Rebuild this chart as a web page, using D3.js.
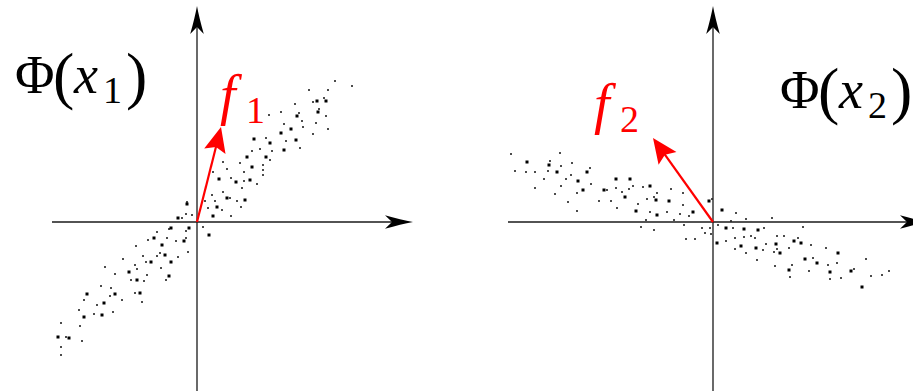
<!DOCTYPE html>
<html>
<head>
<meta charset="utf-8">
<script src="https://cdn.jsdelivr.net/npm/d3@7/dist/d3.min.js"></script>
<style>
  html, body { margin: 0; padding: 0; background: #fff; }
  svg { display: block; }
  svg text, svg tspan { font-family: "Liberation Serif", serif; }
</style>
</head>
<body>
<svg id="chart" width="913" height="391"></svg>
<script>
// ---- Feature space 1: sample images Φ(x1) (coordinates relative to origin) ----
const p1Big = [
  [1.20,1.21],[1.29,1.21],[1.21,1.10],[1.00,1.06],[0.94,0.93],[0.84,0.89],[0.57,0.83],
  [0.99,0.82],[0.73,0.79],[0.87,0.72],[0.50,0.65],[0.69,0.65],[0.55,0.55],[0.22,0.43],
  [0.53,0.42],[0.39,0.40],[0.30,0.24],[0.48,0.22],[0.20,0.15],[0.16,0.06],[-0.10,0.18],
  [-0.19,0.04],[-0.08,-0.06],[-0.26,-0.06],[0.12,-0.13],[-0.43,-0.16],[-0.13,-0.19],
  [-0.35,-0.23],[-0.32,-0.33],[-0.46,-0.40],[-0.26,-0.40],[-0.68,-0.50],[-0.28,-0.54],
  [-0.60,-0.58],[-0.57,-0.71],[-1.10,-0.72],[-0.82,-0.72],[-0.93,-0.81],[-0.95,-0.93],
  [-1.13,-0.95],[-1.39,-1.15],[-1.28,-1.16]
];
const p1Small = [
  [1.38,1.41],[1.55,1.36],[1.12,1.32],[1.31,1.32],[1.27,1.24],[1.16,1.20],[0.98,1.18],
  [1.22,1.13],[0.84,1.10],[1.02,1.09],[0.72,1.07],[1.29,1.06],[1.05,1.01],[0.87,0.98],
  [1.19,0.99],[1.06,0.95],[1.31,0.93],[1.16,0.88],[0.69,0.84],[0.89,0.81],[0.63,0.73],
  [1.03,0.74],[0.55,0.71],[0.75,0.71],[0.73,0.62],[0.26,0.60],[0.43,0.59],[0.66,0.57],
  [0.30,0.53],[0.66,0.52],[0.16,0.50],[0.47,0.50],[0.66,0.47],[0.34,0.44],[0.47,0.41],
  [0.60,0.38],[0.45,0.34],[0.15,0.27],[0.26,0.30],[0.33,0.24],[0.18,0.21],[0.40,0.21],
  [0.08,0.21],[0.25,0.12],[0.11,0.14],[0.44,0.15],[0.34,0.06],[-0.05,0.07],[0.06,-0.05],
  [-0.10,0.20],[-0.11,0.08],[-0.15,0.04],[-0.28,-0.07],[-0.40,-0.10],[-0.11,-0.09],
  [-0.30,-0.16],[-0.11,-0.16],[-0.49,-0.18],[-0.21,-0.19],[-0.61,-0.24],[-0.09,-0.30],
  [-0.37,-0.31],[-0.40,-0.34],[-0.54,-0.34],[-0.19,-0.35],[-0.74,-0.37],[-0.51,-0.40],
  [-0.92,-0.45],[-0.62,-0.43],[-0.60,-0.47],[-0.36,-0.46],[-0.82,-0.52],[-0.50,-0.53],
  [-0.66,-0.58],[-0.53,-0.59],[-0.31,-0.58],[-0.96,-0.64],[-0.86,-0.66],[-0.62,-0.71],
  [-0.87,-0.74],[-0.75,-0.78],[-1.13,-0.78],[-0.55,-0.80],[-1.00,-0.83],[-1.18,-0.88],
  [-0.84,-0.90],[-1.03,-0.92],[-1.36,-1.01],[-1.17,-1.04],[-1.31,-1.15],[-1.15,-1.19],
  [-1.36,-1.25],[-1.36,-1.33]
];
const f1 = [0.24, 0.95];

// ---- Feature space 2: sample images Φ(x2) ----
const p2Big = [
  [-1.86,0.60],[-1.64,0.57],[-1.56,0.50],[-1.26,0.50],[-1.35,0.41],[-0.97,0.43],[-0.83,0.43],
  [-1.30,0.32],[-1.09,0.32],[-0.63,0.36],[-0.88,0.25],[-0.57,0.22],[-0.44,0.21],[-0.04,0.21],
  [-0.77,0.11],[-0.20,0.10],[-0.56,0.07],[0.09,0.12],[0.13,-0.06],[0.31,-0.07],[0.45,-0.08],
  [0.04,-0.21],[0.81,-0.19],[0.63,-0.22],[0.88,-0.21],[0.28,-0.24],[0.43,-0.26],[0.67,-0.31],
  [1.25,-0.31],[0.92,-0.37],[1.04,-0.41],[0.76,-0.48],[1.17,-0.50],[1.38,-0.49],[1.49,-0.65]
];
const p2Small = [
  [-2.02,0.68],[-1.53,0.69],[-1.63,0.61],[-1.41,0.59],[-1.52,0.56],[-1.23,0.54],[-1.98,0.51],
  [-1.87,0.50],[-1.78,0.50],[-1.65,0.51],[-1.42,0.47],[-1.69,0.43],[-1.47,0.43],[-1.22,0.38],
  [-1.52,0.36],[-1.78,0.34],[-1.36,0.29],[-1.58,0.28],[-1.06,0.32],[-0.97,0.34],[-0.84,0.33],
  [-0.91,0.30],[-0.80,0.36],[-0.70,0.35],[-0.56,0.29],[-0.42,0.33],[-0.30,0.29],[-0.59,0.25],
  [-0.66,0.23],[-1.45,0.20],[-1.14,0.21],[-1.02,0.21],[-0.75,0.18],[-0.96,0.14],[-0.30,0.17],
  [-1.36,0.11],[-0.63,0.10],[-0.46,0.10],[-0.33,0.08],[-0.24,0.06],[-0.67,0.02],[-0.39,0.02],
  [-0.72,-0.05],[-0.59,-0.08],[-0.29,-0.03],[-0.11,-0.06],[-0.03,-0.06],[0.05,-0.03],
  [-0.27,-0.17],[-0.18,-0.17],[-0.01,0.23],[0.23,0.09],[0.59,0.04],[0.33,0.03],[0.18,0.01],
  [0.20,-0.06],[0.51,-0.06],[0.90,-0.05],[-0.08,-0.11],[-0.02,-0.12],[0.38,-0.14],[0.22,-0.16],
  [0.31,-0.15],[0.42,-0.16],[0.64,-0.14],[0.71,-0.14],[0.85,-0.16],[0.13,-0.19],[0.53,-0.22],
  [0.98,-0.23],[0.22,-0.27],[0.50,-0.28],[0.76,-0.26],[0.64,-0.27],[0.61,-0.30],[0.33,-0.31],
  [1.13,-0.26],[0.44,-0.38],[1.00,-0.36],[1.24,-0.41],[1.53,-0.37],[0.62,-0.44],[0.79,-0.43],
  [1.15,-0.43],[0.96,-0.49],[1.41,-0.47],[1.76,-0.49],[0.77,-0.55],[1.17,-0.57],[1.28,-0.56],
  [1.58,-0.54],[1.69,-0.53]
];
const f2 = [-0.60, 0.84];

// ---- Scales (same vertical scale for both panels) ----
const svg = d3.select("#chart");
const y  = d3.scaleLinear().domain([-1.69, 2.16]).range([391, 6]);
const x1 = d3.scaleLinear().domain([-1.45, 2.16]).range([52, 413]);
const x2 = d3.scaleLinear().domain([-2.05, 2.15]).range([508, 928]);

// stealth-style arrowhead, tip at (0,0) pointing along +x
const axisHead = "M0,0 Q-12,-2.2 -28,-6.8 L-21,0 L-28,6.8 Q-12,2.2 0,0 Z";
const vecHead  = "M0,0 L-25,-11 L-20.5,0 L-25,11 Z";

function drawPanel(x, big, small, vec) {
  const g = svg.append("g");
  const [x0, x1e] = x.domain();
  const [y0, y1e] = y.domain();

  // axes
  const axes = g.append("g").attr("stroke", "#1a1a1a").attr("stroke-width", 1.3);
  axes.append("line").attr("x1", x(x0)).attr("x2", x(x1e) - 20)
      .attr("y1", y(0)).attr("y2", y(0));
  axes.append("line").attr("x1", x(0)).attr("x2", x(0))
      .attr("y1", y(y0)).attr("y2", y(y1e) + 20);
  g.append("path").attr("d", axisHead).attr("fill", "#000")
    .attr("transform", `translate(${x(x1e)},${y(0)})`);
  g.append("path").attr("d", axisHead).attr("fill", "#000")
    .attr("transform", `translate(${x(0)},${y(y1e)}) rotate(-90)`);

  // sample points
  g.append("g").selectAll("rect").data(small).join("rect")
    .attr("x", d => x(d[0]) - 0.9).attr("y", d => y(d[1]) - 0.9)
    .attr("width", 1.8).attr("height", 1.8).attr("fill", "#222");
  g.append("g").selectAll("rect").data(big).join("rect")
    .attr("x", d => x(d[0]) - 1.5).attr("y", d => y(d[1]) - 1.5)
    .attr("width", 3).attr("height", 3).attr("fill", "#000");

  // feature direction vector
  const ox = x(0), oy = y(0), tx = x(vec[0]), ty = y(vec[1]);
  const ang = Math.atan2(ty - oy, tx - ox);
  const len = Math.hypot(tx - ox, ty - oy);
  g.append("line").attr("x1", ox).attr("y1", oy)
    .attr("x2", ox + Math.cos(ang) * (len - 18)).attr("y2", oy + Math.sin(ang) * (len - 18))
    .attr("stroke", "#ff0000").attr("stroke-width", 2.2);
  g.append("path").attr("d", vecHead).attr("fill", "#ff0000")
    .attr("transform", `translate(${tx},${ty}) rotate(${ang * 180 / Math.PI})`);
  return g;
}

drawPanel(x1, p1Big, p1Small, f1);
drawPanel(x2, p2Big, p2Small, f2);

// ---- Math labels ----
function phiLabel(px, base, sub) {
  const t = svg.append("text").attr("y", base).attr("fill", "#000");
  t.append("tspan").attr("x", px).attr("font-size", 54).text("Φ");
  t.append("tspan").attr("x", px + 38).attr("font-size", 64).attr("dy", 4).text("(");
  t.append("tspan").attr("x", px + 59).attr("font-size", 54).attr("dy", -4)
    .attr("font-style", "italic").text("x");
  t.append("tspan").attr("x", px + 88).attr("font-size", 38).attr("dy", 10).text(sub);
  t.append("tspan").attr("x", px + 111).attr("font-size", 64).attr("dy", -6).text(")");
}
phiLabel(15, 93, "1");
phiLabel(780, 108, "2");

function fLabel(px, base, sub) {
  const t = svg.append("text").attr("y", base).attr("fill", "#ff0000");
  t.append("tspan").attr("x", px).attr("font-size", 56).attr("font-style", "italic").text("f");
  t.append("tspan").attr("x", px + 26).attr("font-size", 38).attr("dy", 9).text(sub);
}
fLabel(220, 114, "1");
fLabel(594, 123, "2");
</script>
</body>
</html>
